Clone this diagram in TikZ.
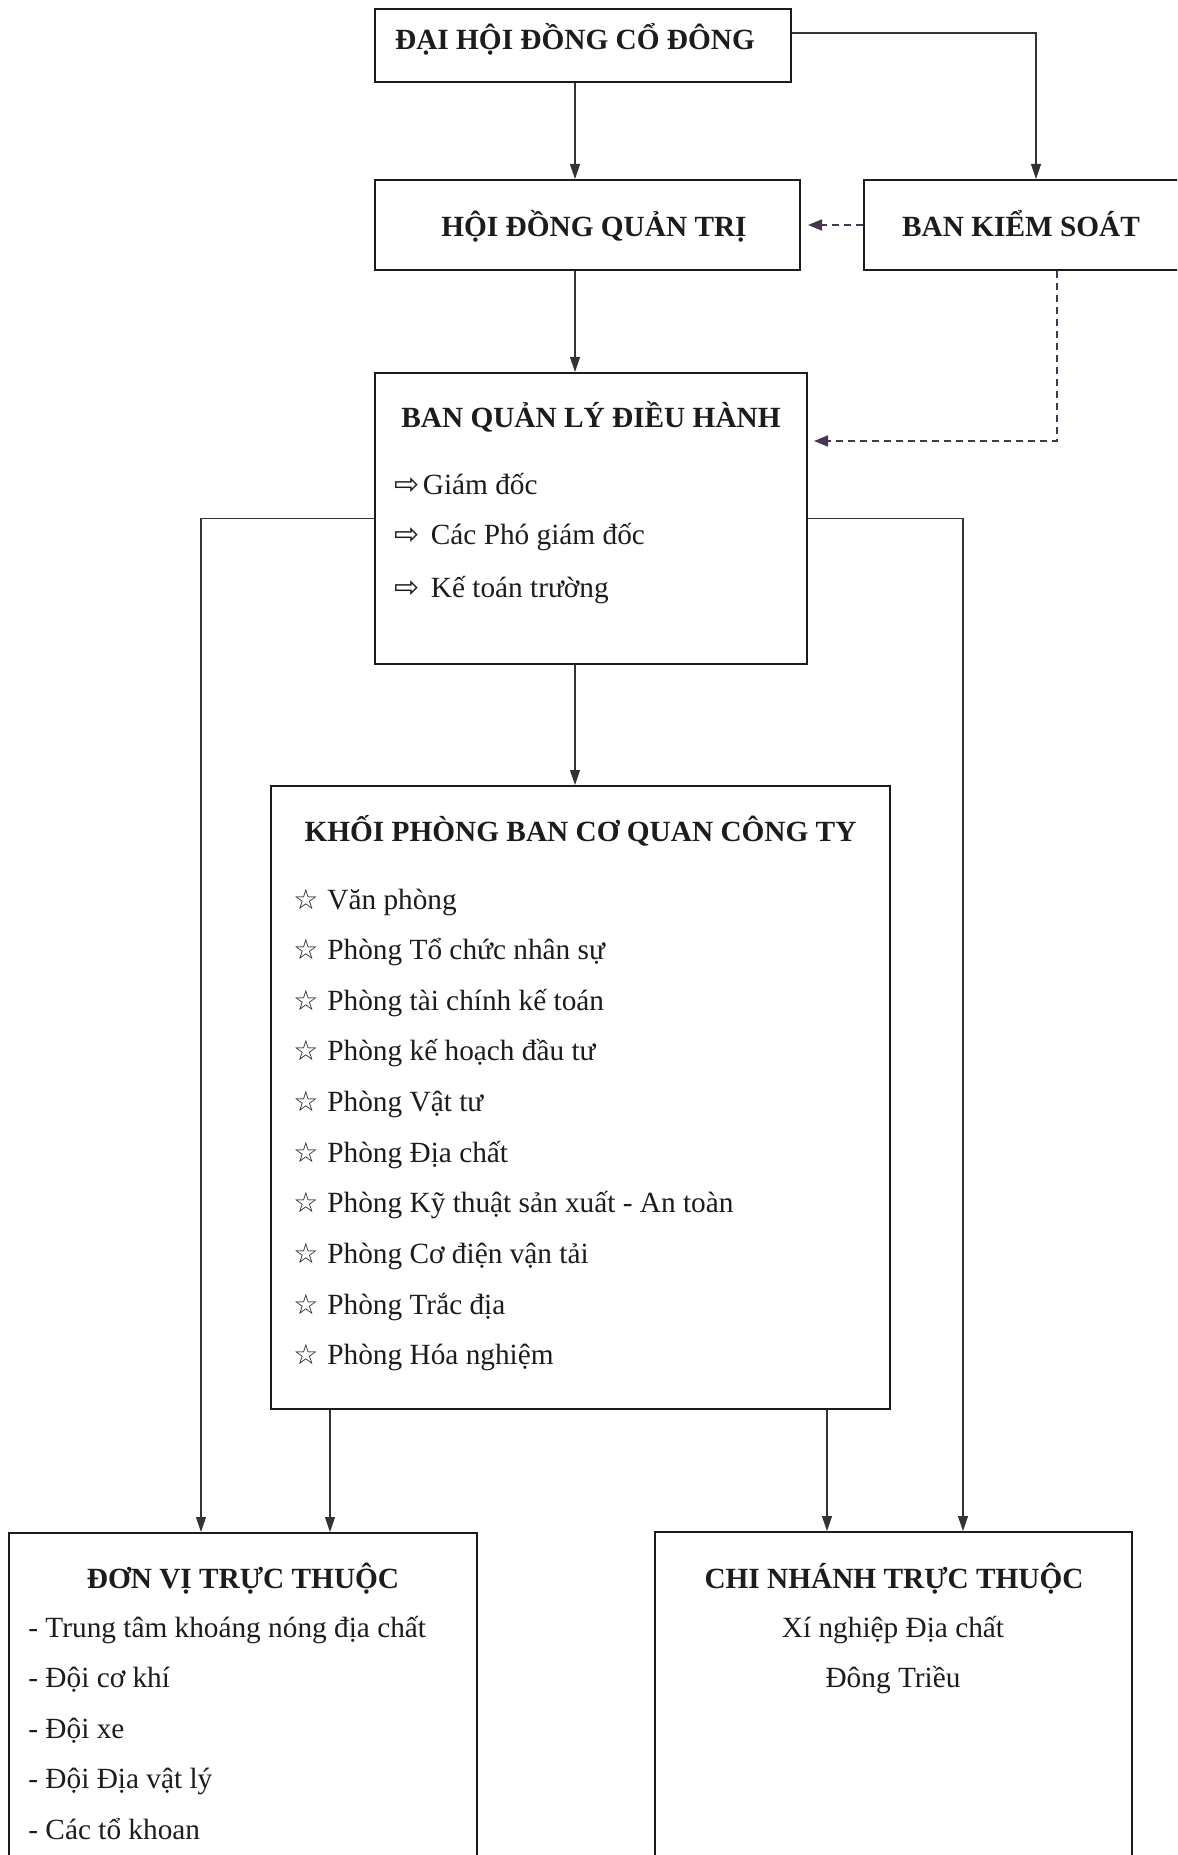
\documentclass[tikz,border=0pt]{standalone}
\usepackage{fontspec}
\setmainfont{Liberation Serif}
\newfontfamily\symfont{DejaVu Sans}
\usetikzlibrary{arrows.meta}
\definecolor{ink}{HTML}{1C1C1C}
\definecolor{linec}{HTML}{333333}
\definecolor{dashc}{HTML}{4A3550}
\newcommand{\bodyfont}{\fontsize{14.65pt}{17pt}\selectfont}
\newcommand{\headfont}{\fontsize{14.65pt}{17pt}\selectfont\bfseries}
\newcommand{\arrsym}{{\symfont\fontsize{15pt}{12pt}\selectfont ⇨}}
\newcommand{\starsym}{{\symfont\fontsize{14pt}{12pt}\selectfont ☆}}
\tikzset{
  box/.style={draw=ink, line width=1pt, inner sep=0pt, rectangle},
  arr/.style={draw=linec, line width=0.6pt, -{Triangle[length=7.5pt,width=5pt]}},
  darr/.style={draw=dashc, line width=0.8pt, dash pattern=on 3.5pt off 2.5pt, -{Triangle[length=7pt,width=5.5pt]}},
  head/.style={inner sep=0pt, font=\headfont, text=ink, anchor=base},
  plain/.style={inner sep=0pt, font=\bodyfont, text=ink, anchor=base},
  item/.style={inner sep=0pt, font=\bodyfont, text=ink, anchor=base west}
}
\begin{document}
\begin{tikzpicture}[x=0.5pt,y=-0.5pt]
\useasboundingbox (0,0) rectangle (1177,1855);
\fill[white] (0,0) rectangle (1177,1855);
\clip (0,0) rectangle (1177,1855);

% boxes
\node[box, minimum width=208pt, minimum height=36.5pt] (dhdcd) at (583,45.5) {};
\node[box, minimum width=212.5pt, minimum height=45pt] (hdqt) at (587.5,225) {};
\node[box, minimum width=168pt, minimum height=45pt] (bks) at (1032,225) {};
\node[box, minimum width=216pt, minimum height=145.5pt] (bql) at (591,518.5) {};
\node[box, minimum width=309.5pt, minimum height=311.5pt] (kpb) at (580.5,1097.5) {};
\node[box, minimum width=234pt, minimum height=183.5pt] (dvtt) at (243,1716.5) {};
\node[box, minimum width=238.5pt, minimum height=184pt] (cntt) at (893.5,1716) {};

% titles
\node[head] (t1) at (575,50) {ĐẠI HỘI ĐỒNG CỔ ĐÔNG};
\node[head] (t2) at (594,237) {HỘI ĐỒNG QUẢN TRỊ};
\node[head] (t3) at (1021,237) {BAN KIỂM SOÁT};
\node[head] (t4) at (591,428) {BAN QUẢN LÝ ĐIỀU HÀNH};
\node[head] (t5) at (580.5,841) {KHỐI PHÒNG BAN CƠ QUAN CÔNG TY};
\node[head] (t6) at (243,1588) {ĐƠN VỊ TRỰC THUỘC};
\node[head] (t7) at (894,1588) {CHI NHÁNH TRỰC THUỘC};

% management items
\node[item] (g1) at (394,495) {\makebox[14.25pt][l]{\arrsym}Giám đốc};
\node[item] (g2) at (394,545) {\makebox[18.25pt][l]{\arrsym}Các Phó giám đốc};
\node[item] (g3) at (394,597) {\makebox[18.25pt][l]{\arrsym}Kế toán trường};

% departments
\foreach \t [count=\i from 0] in {Văn phòng, Phòng Tổ chức nhân sự, Phòng tài chính kế toán, Phòng kế hoạch đầu tư, Phòng Vật tư, Phòng Địa chất, Phòng Kỹ thuật sản xuất - An toàn, Phòng Cơ điện vận tải, Phòng Trắc địa, Phòng Hóa nghiệm}
  {\node[item] (k\i) at (293,{909+50.66*\i}) {\makebox[17pt][l]{\starsym}\t};}

% units
\node[item] (u1) at (28,1637) {- Trung tâm khoáng nóng địa chất};
\node[item] (u2) at (28,1687.5) {- Đội cơ khí};
\node[item] (u3) at (28,1738) {- Đội xe};
\node[item] (u4) at (28,1788.5) {- Đội Địa vật lý};
\node[item] (u5) at (28,1839) {- Các tổ khoan};

% branch
\node[plain] (b1) at (893,1637) {Xí nghiệp Địa chất};
\node[plain] (b2) at (893,1687) {Đông Triều};

% connector guides
\coordinate (xa) at (575,0);
\coordinate (xb) at (1036,33);
\coordinate (xc) at (1057,441);
\coordinate (xl) at (201,0);
\coordinate (xr) at (963,0);
\coordinate (xk1) at (330,0);
\coordinate (xk2) at (827,0);

% connectors
\draw[arr] (dhdcd.south -| xa) -- (hdqt.north -| xa);
\draw[arr] (dhdcd.east |- xb) -| (bks.north -| xb);
\draw[darr] (bks.west) -- ([xshift=3.5pt]hdqt.east);
\draw[arr] (hdqt.south -| xa) -- (bql.north -| xa);
\draw[darr] (bks.south -| xc) |- ([xshift=3pt]bql.east |- xc);
\draw[arr] (bql.west) -| (dvtt.north -| xl);
\draw[arr] (bql.east) -| (cntt.north -| xr);
\draw[arr] (bql.south -| xa) -- (kpb.north -| xa);
\draw[arr] (kpb.south -| xk1) -- (dvtt.north -| xk1);
\draw[arr] (kpb.south -| xk2) -- (cntt.north -| xk2);
\end{tikzpicture}
\end{document}
